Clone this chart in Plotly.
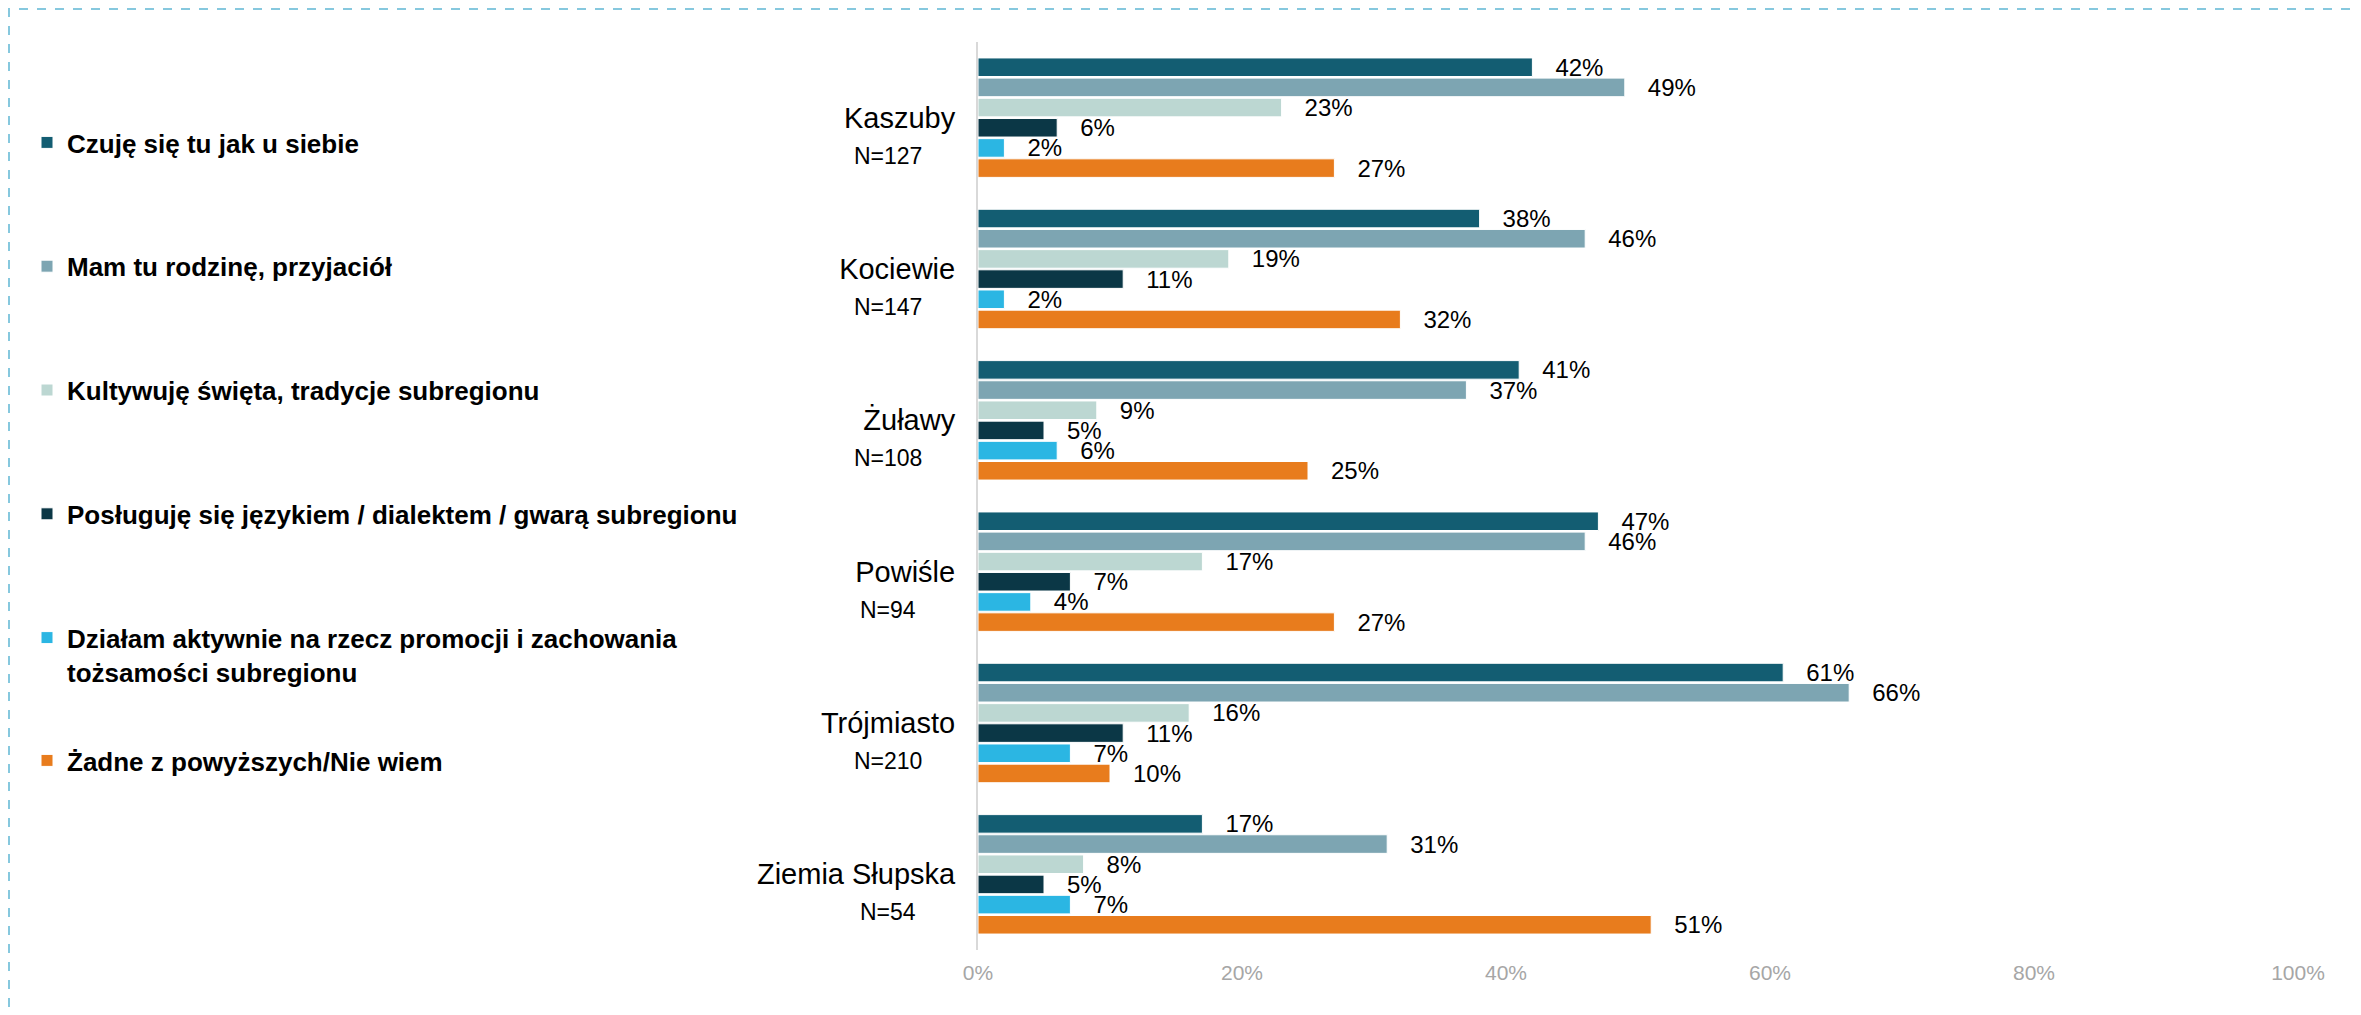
import plotly.graph_objects as go

# Subregions (top to bottom) and sample sizes
regions = ["Kaszuby", "Kociewie", "Żuławy", "Powiśle", "Trójmiasto", "Ziemia Słupska"]
sample_sizes = [127, 147, 108, 94, 210, 54]

# Answers (legend order) and values in %
answers = [
    "Czuję się tu jak u siebie",
    "Mam tu rodzinę, przyjaciół",
    "Kultywuję święta, tradycje subregionu",
    "Posługuję się językiem / dialektem / gwarą subregionu",
    "Działam aktywnie na rzecz promocji i zachowania<br>tożsamości subregionu",
    "Żadne z powyższych/Nie wiem",
]
czuje = [42, 38, 41, 47, 61, 17]
rodzina = [49, 46, 37, 46, 66, 31]
kultywuje = [23, 19, 9, 17, 16, 8]
posluguje = [6, 11, 5, 7, 11, 5]
dzialam = [2, 2, 6, 4, 7, 7]
zadne = [27, 32, 25, 27, 10, 51]

x_ticks = [0, 20, 40, 60, 80, 100]
x_tick_labels = ["0%", "20%", "40%", "60%", "80%", "100%"]

series = [czuje, rodzina, kultywuje, posluguje, dzialam, zadne]
colors = ["#135D72", "#7DA5B2", "#BCD7D2", "#0B3746", "#2BB6E3", "#E87C1D"]

FONT = "Liberation Sans, Arial, sans-serif"
W, H = 2361, 1015
L, R, T, B = 970, 71, 34, 73

fig = go.Figure()

for i, (name, vals) in enumerate(zip(answers, series)):
    fig.add_trace(
        go.Bar(
            y=regions,
            x=vals,
            orientation="h",
            name=name,
            legendgroup=f"g{i}",
            legend="legend2" if i == 5 else "legend",
            marker=dict(color=colors[i], line=dict(color="white", width=1)),
            text=vals,
            texttemplate="\u00a0\u00a0\u00a0%{text}%",
            textposition="outside",
            textfont=dict(family=FONT, size=24, color="black"),
            constraintext="none",
            cliponaxis=False,
            hovertemplate=f"{name}: %{{text}}%<extra>%{{y}}</extra>",
        )
    )

pw, ph = W - L - R, H - T - B

# N= labels under the region names
for reg, n in zip(regions, sample_sizes):
    fig.add_annotation(
        x=(880 - L) / pw,
        xref="paper",
        y=reg,
        yref="y",
        yshift=-38,
        text=f"N={n}",
        showarrow=False,
        xanchor="center",
        font=dict(family=FONT, size=23, color="black"),
    )

# dashed frame around the whole slide area
fig.add_shape(
    type="rect",
    xref="paper",
    yref="paper",
    x0=(1 - L) / pw,
    x1=(2380 - L) / pw,
    y0=(H - B - 1040) / ph,
    y1=1 + (T - 1) / ph,
    line=dict(color="#86C8DE", width=2, dash="dash"),
    layer="below",
)

legend_font = dict(family=FONT, size=26, color="black", weight="bold")

fig.update_layout(
    width=W,
    height=H,
    margin=dict(l=L, r=R, t=T, b=B, autoexpand=False),
    paper_bgcolor="white",
    plot_bgcolor="white",
    barmode="group",
    bargap=0.2,
    bargroupgap=0.08,
    font=dict(family=FONT, color="black"),
    xaxis=dict(
        range=[0, 100],
        tickmode="array",
        tickvals=x_ticks,
        ticktext=x_tick_labels,
        showgrid=False,
        zeroline=False,
        showline=False,
        ticklabelstandoff=8,
        tickfont=dict(family=FONT, size=21, color="#A6A6A6"),
    ),
    yaxis=dict(
        autorange="reversed",
        showgrid=False,
        showline=True,
        linecolor="#D9D9D9",
        linewidth=2,
        ticks="",
        ticklabelstandoff=15,
        tickfont=dict(family=FONT, size=29, color="black"),
    ),
    legend=dict(
        xref="container",
        yref="container",
        x=19 / W,
        y=1 - 111 / H,
        xanchor="left",
        yanchor="top",
        font=legend_font,
        tracegroupgap=87,
        valign="top",
        traceorder="grouped",
        maxheight=950,
        bgcolor="rgba(0,0,0,0)",
    ),
    legend2=dict(
        xref="container",
        yref="container",
        x=19 / W,
        y=1 - 729 / H,
        xanchor="left",
        yanchor="top",
        font=legend_font,
        bgcolor="rgba(0,0,0,0)",
    ),
)

fig.write_html("out.html")
